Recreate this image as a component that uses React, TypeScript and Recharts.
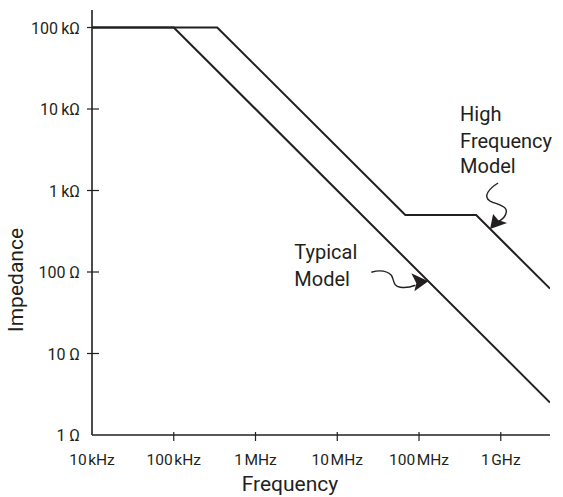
import { Label, Line, LineChart, ReferenceDot, XAxis, YAxis } from "recharts";

// log-log impedance vs frequency
const X_TICKS = [1e4, 1e5, 1e6, 1e7, 1e8, 1e9];
const X_TICK_LABELS = ["10\u200AkHz", "100\u200AkHz", "1\u200AMHz", "10\u200AMHz", "100\u200AMHz", "1\u200AGHz"];
const Y_TICKS = [1, 10, 100, 1e3, 1e4, 1e5];
const Y_TICK_LABELS = ["1 \u03A9", "10 \u03A9", "100 \u03A9", "1\u2009k\u03A9", "10\u2009k\u03A9", "100\u2009k\u03A9"];

const TYPICAL_F = [1e4, 1e5, 4e9];
const TYPICAL_Z = [1e5, 1e5, 2.5];

const HIGHFREQ_F = [1e4, 3.4e5, 6.8e7, 5e8, 4e9];
const HIGHFREQ_Z = [1e5, 1e5, 500, 500, 62.5];

// where the callout arrows touch the lines
const CALLOUT_NAMES = ["highfreq", "typical"];
const CALLOUT_F = [7.4e8, 1.3e8];
const CALLOUT_Z = [337, 77];
const CALLOUT_TEXT = [["High", "Frequency", "Model"], ["Typical", "Model"]];

const typicalData = TYPICAL_F.map((f, i) => ({ f, z: TYPICAL_Z[i] }));
const highFreqData = HIGHFREQ_F.map((f, i) => ({ f, z: HIGHFREQ_Z[i] }));

const FONT = "Roboto, 'Liberation Sans', sans-serif";
const INK = "#231f20";

function XTick(props: any) {
  const { x, y, payload, index } = props;
  const i = X_TICKS.indexOf(payload.value);
  return (
    <g>
      {index > 0 && <line x1={x} x2={x} y1={y - 3} y2={y + 6} stroke={INK} strokeWidth={1.2} />}
      <text x={x} y={y + 30} textAnchor="middle" fontSize={15.5} fill={INK} fontFamily={FONT}>
        {X_TICK_LABELS[i]}
      </text>
    </g>
  );
}

function YTick(props: any) {
  const { x, y, payload, index } = props;
  const i = Y_TICKS.indexOf(payload.value);
  return (
    <g>
      {index > 0 && <line x1={x - 5} x2={x + 7} y1={y} y2={y} stroke={INK} strokeWidth={1.2} />}
      <text x={x - 12} y={y + 6} textAnchor="end" fontSize={16} fill={INK} fontFamily={FONT}>
        {Y_TICK_LABELS[i]}
      </text>
    </g>
  );
}

function HighFreqCallout({ cx, cy }: any) {
  return (
    <g fontFamily={FONT} fontSize={20} fill={INK}>
      <text x={cx - 30} y={cy - 108}>{CALLOUT_TEXT[0][0]}</text>
      <text x={cx - 30} y={cy - 81}>{CALLOUT_TEXT[0][1]}</text>
      <text x={cx - 30} y={cy - 56}>{CALLOUT_TEXT[0][2]}</text>
      <path
        transform={`translate(${cx},${cy})`}
        d="M 8 -46 C 0 -41, -8 -33, 0 -28 C 8 -24, 18 -23, 16 -16 C 15 -12, 13 -10, 9 -8"
        fill="none"
        stroke={INK}
        strokeWidth={1.4}
      />
      <path transform={`translate(${cx},${cy})`} d="M 0 0 L 3 -15 L 8 -9 L 17 -6 Z" fill={INK} />
    </g>
  );
}

function TypicalCallout({ cx, cy }: any) {
  return (
    <g fontFamily={FONT} fontSize={20} fill={INK}>
      <text x={cx - 134} y={cy - 22}>{CALLOUT_TEXT[1][0]}</text>
      <text x={cx - 134} y={cy + 5}>{CALLOUT_TEXT[1][1]}</text>
      <path
        transform={`translate(${cx},${cy})`}
        d="M -57 -9 C -50 -11, -42 -11, -37 -6 C -34 -2, -36 5, -28 6 C -22 7, -18 6, -13 4"
        fill="none"
        stroke={INK}
        strokeWidth={1.4}
      />
      <path transform={`translate(${cx},${cy})`} d="M 0 0 L -17 -8 L -12 2 L -14 10 Z" fill={INK} />
    </g>
  );
}

export default function App() {
  return (
    <div style={{ width: 563, height: 497 }}>
      <style>{"body{margin:0}"}</style>
      <LineChart width={563} height={497} margin={{ top: 10, right: 13, bottom: 0, left: 0 }}>
        <XAxis
          dataKey="f"
          type="number"
          scale="log"
          domain={[1e4, 4e9]}
          ticks={X_TICKS}
          allowDataOverflow
          height={62}
          tickSize={0}
          tickMargin={0}
          tickLine={false}
          tick={<XTick />}
          axisLine={{ stroke: INK, strokeWidth: 1.6 }}
        >
          <Label
            content={({ viewBox }: any) => (
              <text
                x={viewBox.x + 198}
                y={viewBox.y + 56}
                textAnchor="middle"
                fontSize={21}
                fill={INK}
                fontFamily={FONT}
              >
                Frequency
              </text>
            )}
          />
        </XAxis>
        <YAxis
          dataKey="z"
          type="number"
          scale="log"
          domain={[1, 164000]}
          ticks={Y_TICKS}
          allowDataOverflow
          width={92}
          tickSize={0}
          tickMargin={0}
          tickLine={false}
          tick={<YTick />}
          axisLine={{ stroke: INK, strokeWidth: 1.6 }}
        >
          <Label
            content={() => (
              <text
                transform="translate(23,280) rotate(-90)"
                textAnchor="middle"
                fontSize={21}
                fill={INK}
                fontFamily={FONT}
              >
                Impedance
              </text>
            )}
          />
        </YAxis>
        <Line
          data={typicalData}
          dataKey="z"
          type="linear"
          stroke={INK}
          strokeWidth={2}
          dot={false}
          activeDot={false}
          isAnimationActive={false}
        />
        <Line
          data={highFreqData}
          dataKey="z"
          type="linear"
          stroke={INK}
          strokeWidth={2}
          dot={false}
          activeDot={false}
          isAnimationActive={false}
        />
        <ReferenceDot
          key={CALLOUT_NAMES[0]}
          x={CALLOUT_F[0]}
          y={CALLOUT_Z[0]}
          r={0}
          shape={(p: any) => <HighFreqCallout cx={p.cx} cy={p.cy} />}
        />
        <ReferenceDot
          key={CALLOUT_NAMES[1]}
          x={CALLOUT_F[1]}
          y={CALLOUT_Z[1]}
          r={0}
          shape={(p: any) => <TypicalCallout cx={p.cx} cy={p.cy} />}
        />
      </LineChart>
    </div>
  );
}
